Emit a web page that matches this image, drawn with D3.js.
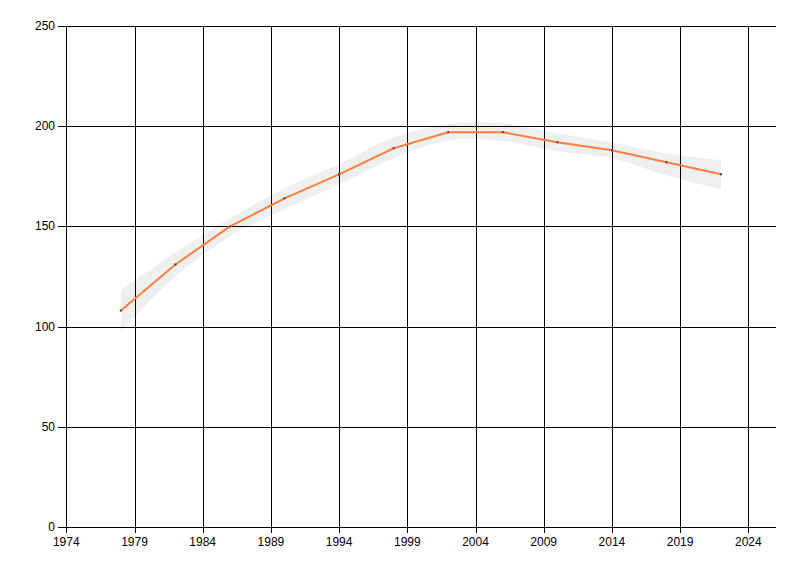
<!DOCTYPE html>
<html><head><meta charset="utf-8">
<script src="https://cdn.jsdelivr.net/npm/d3@7"></script>
<style>body{margin:0;background:#fff}svg{display:block}</style>
</head><body><svg id="c" width="800" height="576"></svg>
<script>
const years = [1978,1982,1986,1990,1994,1998,2002,2006,2010,2014,2018,2022];
const values = [108,131,150,164,176,189,197,197,192,188,182,176];
const upper = [118,137,154,169,181,194.5,201,201.5,196.5,192,186.5,183];
const lower = [97.5,125,145,158.5,171,184,193,192.5,187.5,184,175.5,168.5];
const xTicks = [1974,1979,1984,1989,1994,1999,2004,2009,2014,2019,2024];
const yTicks = [0,50,100,150,200,250];

const svg = d3.select("#c");
const x = d3.scaleLinear().domain([1974,2026.03]).range([66.3,776]);
const y = d3.scaleLinear().domain([0,250]).range([527,26]);
const font = "'Liberation Sans', Arial, sans-serif";

// band
const area = d3.area().x((d,i)=>x(years[i])).y0((d,i)=>y(lower[i])).y1((d,i)=>y(upper[i])).curve(d3.curveCatmullRom);
svg.append("path").attr("d", area(years)).attr("fill","#efefef");

// grid
const g = svg.append("g").attr("stroke","#000").attr("stroke-width",1).attr("shape-rendering","crispEdges");
xTicks.forEach(t=>g.append("line").attr("x1",Math.round(x(t))+0.5).attr("x2",Math.round(x(t))+0.5).attr("y1",y(250)).attr("y2",533));
yTicks.forEach(t=>g.append("line").attr("x1",58).attr("x2",776).attr("y1",Math.round(y(t))+0.5).attr("y2",Math.round(y(t))+0.5));
g.append("line").attr("x1",66.5).attr("x2",66.5).attr("y1",y(250)).attr("y2",533);

// labels
svg.append("g").selectAll("text").data(xTicks).join("text")
  .attr("x",d=>x(d)).attr("y",546).attr("text-anchor","middle")
  .attr("font-family",font).attr("font-size",12).attr("fill","#000").text(d=>d);
svg.append("g").selectAll("text").data(yTicks).join("text")
  .attr("x",55).attr("y",d=>y(d)+4).attr("text-anchor","end")
  .attr("font-family",font).attr("font-size",12).attr("fill","#000").text(d=>d);

// line
const line = d3.line().x((d,i)=>x(years[i])).y(d=>y(d));
svg.append("path").attr("d",line(values)).attr("fill","none").attr("stroke","#ff7f3f").attr("stroke-width",2);

// markers
svg.append("g").selectAll("rect").data(values).join("rect")
  .attr("x",(d,i)=>x(years[i])-1).attr("y",d=>y(d)-1).attr("width",2).attr("height",2).attr("fill","#444");
</script></body></html>
